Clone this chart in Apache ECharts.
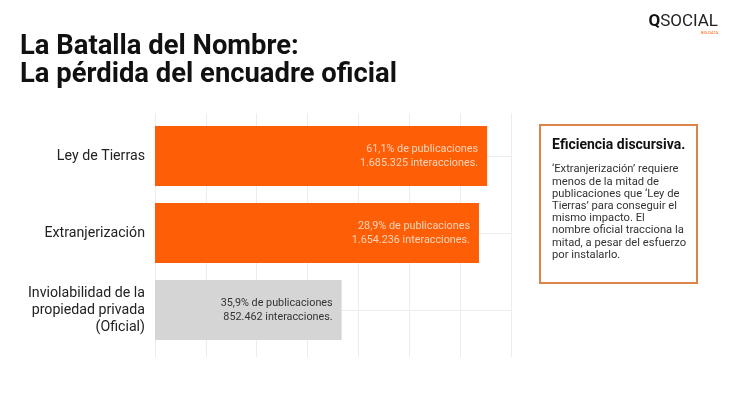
<!DOCTYPE html>
<html>
<head>
<meta charset="utf-8">
<script src="https://cdn.jsdelivr.net/npm/echarts@6/dist/echarts.min.js"></script>
<style>
  html, body { margin: 0; padding: 0; background: #fff; }
  #chart { width: 730px; height: 411px; }
</style>
</head>
<body>
<div id="chart"></div>
<script>
// categories, top to bottom
var categories = ['Ley de Tierras', 'Extranjerización', 'Inviolabilidad de la\npropiedad privada\n(Oficial)'];
// bar length, in grid units (7 grid columns)
var barLength = [6.53, 6.37, 3.67];
var pubShare = ['61,1%', '28,9%', '35,9%'];
var interactions = ['1.685.325', '1.654.236', '852.462'];
var isOfficial = [false, false, true];

var ORANGE = '#fd5e06';
var GREY = '#d5d5d5';
var GRIDLINE = '#ececec';
var FONT = 'Roboto, "Noto Sans", sans-serif';

var chart = echarts.init(document.getElementById('chart'));

var option = {
  backgroundColor: '#fff',
  animation: false,
  textStyle: { fontFamily: FONT },
  grid: [
    // grid 0 only carries the vertical lines
    { left: 155, right: 219, top: 113, bottom: 54 },
    // grid 1 carries the bars
    { left: 155, right: 219, top: 117.5, bottom: 62.5 }
  ],
  xAxis: [
    {
      gridIndex: 0, type: 'value', min: 0, max: 7, interval: 1,
      axisLine: { show: false }, axisTick: { show: false }, axisLabel: { show: false },
      splitLine: { show: true, lineStyle: { color: GRIDLINE, width: 1 } }
    },
    {
      gridIndex: 1, type: 'value', min: 0, max: 7, interval: 1, show: false,
      splitLine: { show: false }
    }
  ],
  yAxis: [
    { gridIndex: 0, type: 'value', min: 0, max: 1, show: false, splitLine: { show: false } },
    {
      gridIndex: 1, type: 'category', inverse: true, data: categories,
      axisLine: { show: false }, axisTick: { show: false },
      axisLabel: { margin: 10, fontSize: 14.2, lineHeight: 17, color: '#222', align: 'right' }
    }
  ],
  series: [
    {
      type: 'bar',
      xAxisIndex: 1, yAxisIndex: 1,
      barWidth: 60,
      data: barLength.map(function (v, i) {
        return {
          value: v,
          itemStyle: { color: isOfficial[i] ? GREY : ORANGE },
          label: { color: isOfficial[i] ? '#333' : 'rgba(255,232,215,0.85)' }
        };
      }),
      label: {
        show: true,
        position: 'insideRight',
        distance: 9,
        fontSize: 10.8,
        lineHeight: 14,
        align: 'right',
        formatter: function (p) {
          return pubShare[p.dataIndex] + ' de publicaciones\n' + interactions[p.dataIndex] + ' interacciones.';
        }
      },
      markLine: {
        z: 1,
        silent: true,
        symbol: 'none',
        label: { show: false },
        lineStyle: { color: GRIDLINE, type: 'solid', width: 1 },
        data: categories.map(function (c) { return { yAxis: c }; })
      }
    }
  ],
  graphic: [
    {
      type: 'text', left: 20, top: 33,
      style: {
        text: 'La Batalla del Nombre:\nLa pérdida del encuadre oficial',
        font: 'bold 27.4px ' + FONT,
        lineHeight: 28,
        fill: '#111'
      }
    },
    {
      type: 'text', right: 12, top: 13,
      style: {
        rich: {
          q: { fontSize: 17, fontWeight: 'bold', fill: '#111', fontFamily: 'Roboto' },
          s: { fontSize: 17, fill: '#222', fontFamily: 'Roboto' }
        },
        text: '{q|Q}{s|SOCIAL}'
      }
    },
    {
      type: 'text', left: 701, top: 31,
      style: { text: 'BIG DATA', font: '4px Roboto', fill: ORANGE }
    },
    {
      type: 'rect',
      shape: { x: 540, y: 125, width: 157, height: 158 },
      style: { fill: '#fff', stroke: '#dd8447', lineWidth: 2 }
    },
    {
      type: 'text', left: 552, top: 138,
      style: { text: 'Eficiencia discursiva.', font: 'bold 14px ' + FONT, fill: '#111' }
    },
    {
      type: 'text', left: 552, top: 163.5,
      style: {
        text: '‘Extranjerización’ requiere\nmenos de la mitad de\npublicaciones que ‘Ley de\nTierras’ para conseguir el\nmismo impacto. El\nnombre oficial tracciona la\nmitad, a pesar del esfuerzo\npor instalarlo.',
        font: '11.2px ' + FONT,
        lineHeight: 12.2,
        fill: '#333'
      }
    }
  ]
};

chart.setOption(option);
</script>
</body>
</html>
